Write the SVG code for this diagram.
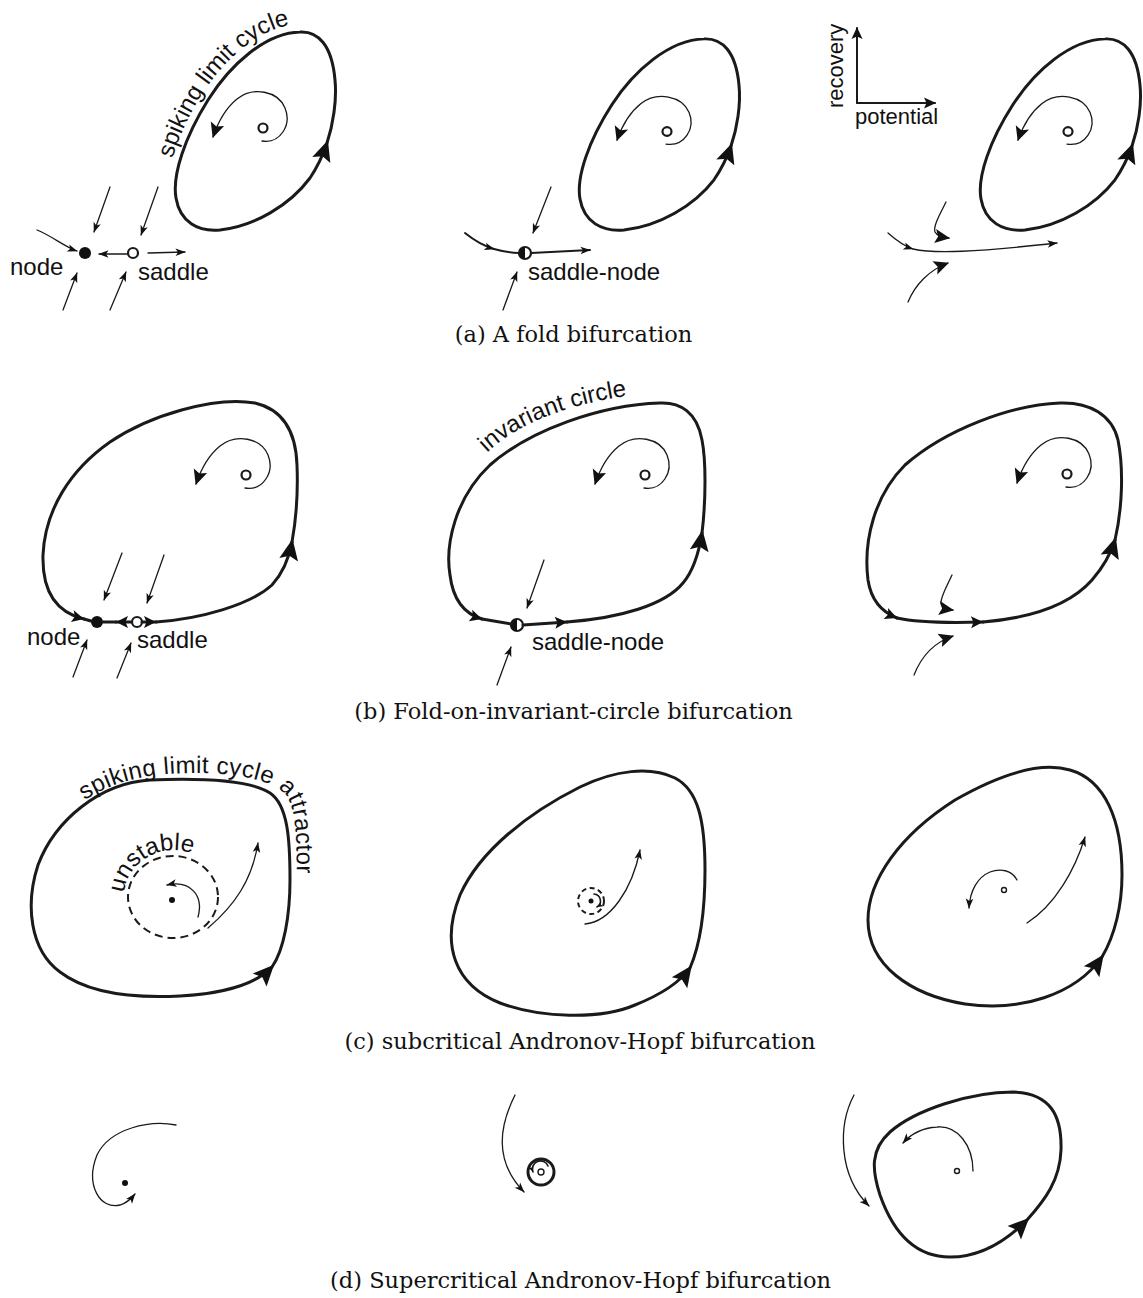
<svg xmlns="http://www.w3.org/2000/svg" width="1143" height="1298" viewBox="0 0 1143 1298">
<style>
.cy{fill:none;stroke:#1a1a1a;stroke-width:3;stroke-linecap:round;stroke-linejoin:round}
.tr{fill:none;stroke:#1a1a1a;stroke-width:1.3;stroke-linecap:round}
.tm{fill:none;stroke:#1a1a1a;stroke-width:2;stroke-linecap:round}
.lbl{font-family:"Liberation Sans",Arial,sans-serif;font-size:24px;fill:#111}
.ax{font-family:"Liberation Sans",Arial,sans-serif;font-size:22px;fill:#111}
.cap{font-family:"DejaVu Serif",serif;font-size:22.5px;fill:#111;text-anchor:middle}
.open{fill:#fff;stroke:#1a1a1a;stroke-width:2.2}
.dot{fill:#111}
.dash{fill:none;stroke:#1a1a1a;stroke-width:2;stroke-dasharray:8 5}
</style>
<defs>
<marker id="big" markerUnits="userSpaceOnUse" viewBox="-24 -12 27 24" markerWidth="27" markerHeight="24" refX="-3" refY="0" orient="auto" overflow="visible"><path d="M0,0 L-21,-9.5 L-17,0 L-21,9.5 Z" fill="#111"/></marker>
<marker id="md" markerUnits="userSpaceOnUse" viewBox="-17 -8 18 16" markerWidth="18" markerHeight="16" refX="-1" refY="0" orient="auto" overflow="visible"><path d="M0,0 L-15,-7 L-12,0 L-15,7 Z" fill="#111"/></marker>
<marker id="sm" markerUnits="userSpaceOnUse" viewBox="-11 -5 12 10" markerWidth="12" markerHeight="10" refX="-0.5" refY="0" orient="auto" overflow="visible"><path d="M0,0 L-10,-3.8 L-7.5,0 L-10,3.8 Z" fill="#111"/></marker>
<marker id="cs" markerUnits="userSpaceOnUse" viewBox="-14 -7 15 14" markerWidth="15" markerHeight="14" refX="0" refY="0" orient="auto" overflow="visible"><path d="M0,0 L-12,-6 L-9.5,0 L-12,6 Z" fill="#111"/></marker>
<marker id="tiny" markerUnits="userSpaceOnUse" viewBox="-7 -3 8 6" markerWidth="8" markerHeight="6" refX="0" refY="0" orient="auto" overflow="visible"><path d="M0,0 L-6,-2.6 L-4.5,0 L-6,2.6 Z" fill="#111"/></marker>
<marker id="axm" markerUnits="userSpaceOnUse" viewBox="-13 -6 14 12" markerWidth="14" markerHeight="12" refX="-1" refY="0" orient="auto" overflow="visible"><path d="M0,0 L-12,-5.5 L-9.5,0 L-12,5.5 Z" fill="#111"/></marker>
<path id="tpA" d="M 168,198 C 165,172 178,133 201,96 C 224,59 262,25 300,24 L 330,24"/>
<path id="tpB" d="M 478,462 C 510,425 570,400 660,392"/>
<path id="tpC" d="M 74,808 C 98,789 127,777 168,774 C 215,771 262,775 283,792 C 296,804 297,830 297,900"/>
<path id="tpU" d="M 124,893 A 50 47 0 0 1 198,856"/>
<g id="cycA">
<path class="cy" d="M 327,143 C 333,125 337,100 335,80 C 332,45 318,31 300,32 C 265,33 230,65 208,100 C 185,137 172,175 176,198 C 180,222 198,232 220,230 C 255,226 290,205 310,178 C 318,166 323,155 327,143" marker-end="url(#big)"/>
<circle class="open" cx="263" cy="128" r="4.5"/>
<path class="tr" d="M 262,141 C 280,144 292,125 285,108 C 278,91 253,86 237,99 C 226,108 218,122 213,137" marker-end="url(#md)"/>
</g>
<g id="spiral">
<circle class="open" cx="263" cy="128" r="4.5"/>
<path class="tr" d="M 262,141 C 280,144 292,125 285,108 C 278,91 253,86 237,99 C 226,108 218,122 213,137" marker-end="url(#md)"/>
</g>
</defs>

<!-- (a) fold -->
<g id="a-left">
<use href="#cycA"/>
<text class="lbl"><textPath href="#tpA" startOffset="40">spiking limit cycle</textPath></text>
<circle class="dot" cx="85" cy="253" r="6"/>
<circle class="open" cx="133" cy="253" r="5"/>
<text class="lbl" x="10" y="275">node</text>
<text class="lbl" x="138" y="280">saddle</text>
</g>
<g id="a-mid">
<use href="#cycA" transform="translate(404,8) scale(1,0.965)"/>
<circle class="open" cx="525" cy="253" r="6"/>
<path d="M 525,247 A 6 6 0 0 0 525,259 Z" fill="#111"/>
<text class="lbl" x="528" y="280">saddle-node</text>
</g>
<g id="a-right">
<use href="#cycA" transform="translate(805,8) scale(1,0.965)"/>
<text class="ax" transform="translate(843,108) rotate(-90)">recovery</text>
<text class="ax" x="855" y="124">potential</text>
</g>

<!-- (b) fold on invariant circle -->
<g id="b-left">
<use href="#spiral" transform="translate(-17,347)"/>
<circle class="dot" cx="97" cy="622" r="6"/>
<circle class="open" cx="137" cy="622" r="5"/>
<text class="lbl" x="27" y="645">node</text>
<text class="lbl" x="137" y="648">saddle</text>
</g>
<g id="b-mid">
<use href="#spiral" transform="translate(382,347)"/>
<text class="lbl"><textPath href="#tpB" startOffset="13">invariant circle</textPath></text>
<circle class="open" cx="517" cy="625" r="6"/>
<path d="M 517,619 A 6 6 0 0 0 517,631 Z" fill="#111"/>
<text class="lbl" x="532" y="650">saddle-node</text>
</g>
<g id="b-right">
<use href="#spiral" transform="translate(804,346)"/>
</g>

<!-- (c) subcritical -->
<g id="c-left">
<path class="cy" d="M 272,967 C 284,950 290,915 290,880 C 290,840 288,805 270,793 C 250,780 200,778 150,780 C 100,783 55,820 38,865 C 25,905 30,950 60,972 C 90,995 140,998 180,996 C 220,994 255,985 272,967" marker-end="url(#big)"/>
<text class="lbl" letter-spacing="0.4"><textPath href="#tpC" startOffset="13">spiking limit cycle attractor</textPath></text>
<ellipse class="dash" cx="173" cy="897" rx="45" ry="41"/>
<text class="lbl"><textPath href="#tpU" startOffset="0">unstable</textPath></text>
<circle class="dot" cx="172" cy="900" r="3"/>
</g>
<g id="c-mid">
<path class="cy" d="M 690,968 C 700,945 705,910 705,870 C 705,820 698,790 675,778 C 650,766 615,770 580,787 C 530,812 480,850 460,895 C 440,945 455,985 500,1003 C 540,1018 600,1020 635,1005 C 660,995 680,982 690,968" marker-end="url(#big)"/>
<circle class="dash" cx="591" cy="901" r="13" style="stroke-dasharray:5 3.5"/>
<circle class="dot" cx="591" cy="901" r="2.5"/>
</g>
<g id="c-right">
<path class="cy" d="M 1102,957 C 1115,935 1122,905 1122,875 C 1122,820 1105,780 1070,770 C 1035,760 990,780 955,800 C 900,835 868,880 868,920 C 868,965 910,995 965,1004 C 1020,1012 1075,995 1102,957" marker-end="url(#big)"/>
<circle class="open" cx="1004" cy="890" r="2.5" style="stroke-width:1.4"/>
</g>

<!-- (d) supercritical -->
<g id="d-left">
<circle class="dot" cx="125" cy="1183" r="3"/>
</g>
<g id="d-mid">
<circle cx="541" cy="1172" r="13" fill="none" stroke="#1a1a1a" stroke-width="3"/>
<circle class="open" cx="541" cy="1172" r="3" style="stroke-width:1.4"/>
</g>
<g id="d-right">
<path class="cy" d="M 1027,1220 C 1045,1200 1060,1180 1061,1150 C 1062,1115 1050,1093 1013,1092 C 970,1092 915,1110 890,1132 C 870,1150 872,1170 880,1195 C 893,1232 915,1257 950,1257 C 980,1257 1005,1242 1027,1220" marker-end="url(#big)"/>
<circle class="open" cx="957" cy="1171" r="2.5" style="stroke-width:1.4"/>
</g>

<g id="connectors">
<!-- a-left -->
<path class="tr" d="M 37,230 C 52,236 65,247 77,251" marker-end="url(#sm)"/>
<path class="tr" d="M 110,187 L 94,232" marker-end="url(#sm)"/>
<path class="tr" d="M 63,310 L 77,273" marker-end="url(#sm)"/>
<path class="tr" d="M 127,254 L 99,254" marker-end="url(#sm)"/>
<path class="tr" d="M 148,253 L 185,252" marker-end="url(#sm)"/>
<path class="tr" d="M 158,187 L 141,235" marker-end="url(#sm)"/>
<path class="tr" d="M 110,310 L 126,272" marker-end="url(#sm)"/>
<!-- a-mid -->
<path class="tm" d="M 465,233 C 475,241 484,246 494,249" marker-end="url(#sm)"/>
<path class="tm" d="M 494,249 C 505,252 512,253 519,253"/>
<path class="tm" d="M 531,253 L 590,250" marker-end="url(#sm)"/>
<path class="tr" d="M 551,187 L 533,233" marker-end="url(#sm)"/>
<path class="tr" d="M 503,310 L 517,272" marker-end="url(#sm)"/>
<!-- a-right -->
<path class="tm" d="M 857,103 L 857,28" marker-end="url(#axm)"/>
<path class="tm" d="M 857,103 L 935,103" marker-end="url(#axm)"/>
<path class="tr" d="M 888,233 C 897,241 904,246 913,249" marker-end="url(#sm)"/>
<path class="tr" d="M 913,249 C 935,254 975,252 1057,243" marker-end="url(#sm)"/>
<path class="tr" d="M 946,202 C 940,214 933,226 935,232 C 937,236 942,237 949,238" marker-end="url(#md)"/>
<path class="tr" d="M 908,302 C 915,285 929,270 948,263" marker-end="url(#md)"/>
<!-- b-left -->
<path class="cy" d="M 142,622 L 156,622" marker-end="url(#cs)"/>
<path class="cy" d="M 156,622 C 200,619 250,605 272,585 C 283,573 289,558 292,542" marker-end="url(#big)"/>
<path class="cy" d="M 292,542 C 296,520 298,490 297,465 C 296,435 285,410 255,403 C 215,396 150,415 110,442 C 70,470 45,510 43,555 C 42,590 55,612 84,619" marker-end="url(#cs)"/>
<path class="cy" d="M 84,619 L 91,621"/>
<path class="cy" d="M 131,622 L 116,622" marker-end="url(#cs)"/>
<path class="cy" d="M 116,622 L 103,622"/>
<path class="tr" d="M 122,553 L 104,600" marker-end="url(#sm)"/>
<path class="tr" d="M 164,555 L 147,603" marker-end="url(#sm)"/>
<path class="tr" d="M 73,677 L 87,640" marker-end="url(#sm)"/>
<path class="tr" d="M 117,678 L 131,643" marker-end="url(#sm)"/>
<!-- b-mid -->
<path class="cy" d="M 523,625 L 567,622" marker-end="url(#cs)"/>
<path class="cy" d="M 567,622 C 620,618 665,605 683,583 C 694,570 699,552 702,533" marker-end="url(#big)"/>
<path class="cy" d="M 702,533 C 706,500 706,460 702,440 C 697,412 680,402 660,403 C 600,405 530,430 490,465 C 455,498 445,545 450,575 C 453,600 465,614 482,619" marker-end="url(#cs)"/>
<path class="cy" d="M 482,619 L 511,624"/>
<path class="tr" d="M 544,560 L 527,608" marker-end="url(#sm)"/>
<path class="tr" d="M 497,685 L 511,647" marker-end="url(#sm)"/>
<!-- b-right -->
<path class="cy" d="M 983,622 C 1030,618 1070,605 1092,580 C 1105,565 1111,553 1115,540" marker-end="url(#big)"/>
<path class="cy" d="M 1115,540 C 1122,510 1124,470 1118,440 C 1112,415 1090,402 1060,403 C 1010,405 945,430 905,465 C 875,495 863,540 868,580 C 871,600 882,612 897,618" marker-end="url(#cs)"/>
<path class="cy" d="M 897,618 C 915,622 950,623 983,622" marker-end="url(#cs)"/>
<path class="tr" d="M 952,575 C 946,588 940,598 941,604 C 942,608 946,609 953,610" marker-end="url(#md)"/>
<path class="tr" d="M 914,675 C 922,655 935,642 953,636" marker-end="url(#md)"/>
<!-- c-left -->
<path class="tr" d="M 198,917 C 204,895 190,880 167,885" marker-end="url(#sm)"/>
<path class="tr" d="M 208,928 C 235,905 252,880 258,843" marker-end="url(#sm)"/>
<!-- c-mid -->
<path class="tr" d="M 594,894 A 7 7 0 0 1 597,907" marker-end="url(#tiny)" style="stroke-width:1.6"/>
<path class="tr" d="M 585,924 C 610,922 632,890 640,850" marker-end="url(#sm)"/>
<!-- c-right -->
<path class="tr" d="M 1017,880 C 1012,870 1000,868 990,872 C 978,877 970,890 969,908" marker-end="url(#sm)"/>
<path class="tr" d="M 1027,923 C 1055,905 1075,870 1085,837" marker-end="url(#sm)"/>
<!-- d-left -->
<path class="tr" d="M 176,1125 C 150,1120 110,1128 97,1155 C 85,1185 100,1210 120,1205 C 127,1203 131,1199 135,1194" marker-end="url(#sm)"/>
<!-- d-mid -->
<path class="tr" d="M 548,1166 A 8 8 0 0 0 533,1172" marker-end="url(#tiny)" style="stroke-width:1.6"/>
<path class="tr" d="M 515,1095 C 500,1125 493,1160 524,1192" marker-end="url(#sm)"/>
<!-- d-right -->
<path class="tr" d="M 973,1171 C 973,1145 957,1125 937,1127 C 922,1128 910,1135 903,1143" marker-end="url(#sm)"/>
<path class="tr" d="M 854,1095 C 838,1125 838,1175 869,1206" marker-end="url(#sm)"/>
</g>

<g id="captions">
<text class="cap" x="573.5" y="342">(a) A fold bifurcation</text>
<text class="cap" x="573.5" y="719">(b) Fold-on-invariant-circle bifurcation</text>
<text class="cap" x="580" y="1049">(c) subcritical Andronov-Hopf bifurcation</text>
<text class="cap" x="580.5" y="1288">(d) Supercritical Andronov-Hopf bifurcation</text>
</g>
</svg>
